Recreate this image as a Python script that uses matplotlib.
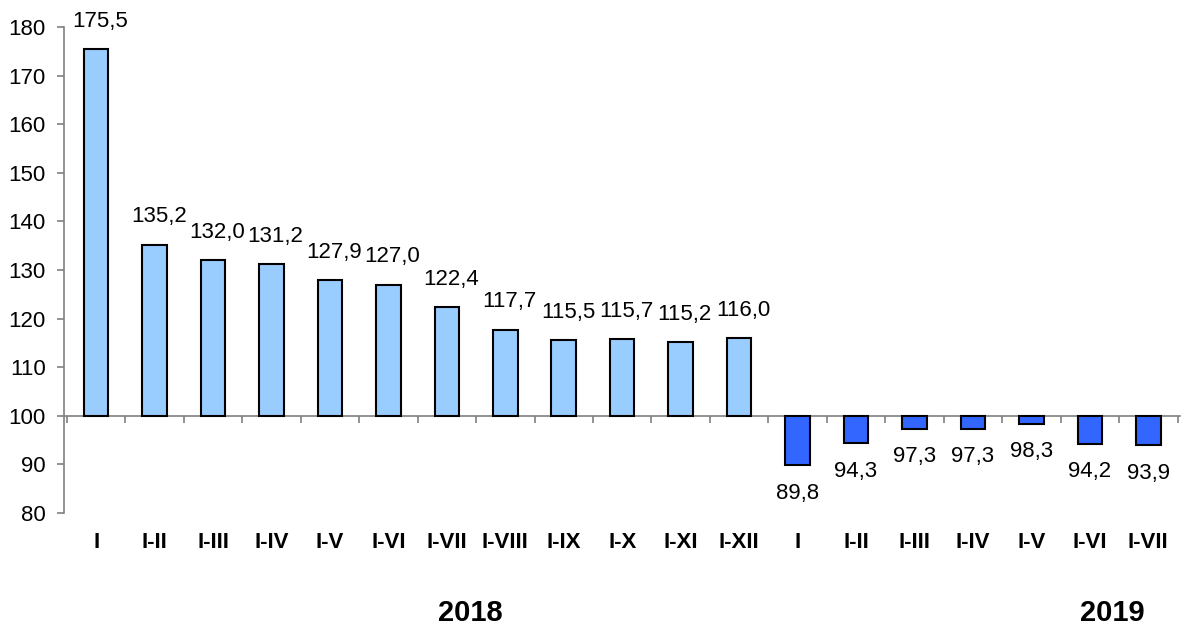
import numpy as np
import matplotlib.pyplot as plt
import matplotlib.transforms as mtransforms

plt.rcParams['font.family'] = ['Liberation Sans', 'DejaVu Sans']

labels = ['I', 'I-II', 'I-III', 'I-IV', 'I-V', 'I-VI', 'I-VII', 'I-VIII', 'I-IX', 'I-X',
          'I-XI', 'I-XII', 'I', 'I-II', 'I-III', 'I-IV', 'I-V', 'I-VI', 'I-VII']
values = [175.5, 135.2, 132.0, 131.2, 127.9, 127.0, 122.4, 117.7, 115.5, 115.7,
          115.2, 116.0, 89.8, 94.3, 97.3, 97.3, 98.3, 94.2, 93.9]
years = ['2018', '2019']
n2018 = 12

fig = plt.figure(figsize=(11.84, 6.27), dpi=100)
ax = fig.add_axes([0.054, 0.182, 0.943, 0.775])

x = np.arange(len(values))
colors = ['#99CCFF' if i < n2018 else '#3366FF' for i in x]
base = 100
ax.bar(x, np.array(values) - base, bottom=base, width=0.42, color=colors,
       edgecolor='black', linewidth=1.5, zorder=3)

for xi, v in zip(x, values):
    txt = f'{v:.1f}'.replace('.', ',')
    if v >= base:
        ax.annotate(txt, (xi, v), xytext=(3, 20), textcoords='offset points',
                    ha='center', va='center', fontsize=16)
    else:
        ax.annotate(txt, (xi, v), xytext=(0, -20), textcoords='offset points',
                    ha='center', va='center', fontsize=16)

ax.set_xlim(-0.55, len(values) - 0.45)
ax.set_ylim(80, 180)
ax.set_yticks(np.arange(80, 181, 10))
ax.tick_params(axis='y', labelsize=16, length=5, pad=8, color='#808080', width=1.2)

ax.spines['top'].set_visible(False)
ax.spines['right'].set_visible(False)
ax.spines['left'].set_color('#808080')
ax.spines['left'].set_linewidth(1.2)
ax.spines['bottom'].set_position(('data', base))
ax.spines['bottom'].set_color('#808080')
ax.spines['bottom'].set_linewidth(1.2)
ax.set_xticks(np.arange(-0.5, len(values), 1.0))
ax.tick_params(axis='x', length=5, color='#808080', width=1.2, labelbottom=False, direction='out')

trans = mtransforms.blended_transform_factory(ax.transData, ax.transAxes)
for xi, lab in zip(x, labels):
    ax.text(xi, -0.06, lab, transform=trans, ha='center', va='center',
            fontsize=16, fontweight='bold')

ax.text(6.4, -0.205, years[0], transform=trans, ha='center', va='center',
        fontsize=21, fontweight='bold')
ax.text(17.38, -0.205, years[1], transform=trans, ha='center', va='center',
        fontsize=21, fontweight='bold')

fig.savefig('out.png', dpi=100)
